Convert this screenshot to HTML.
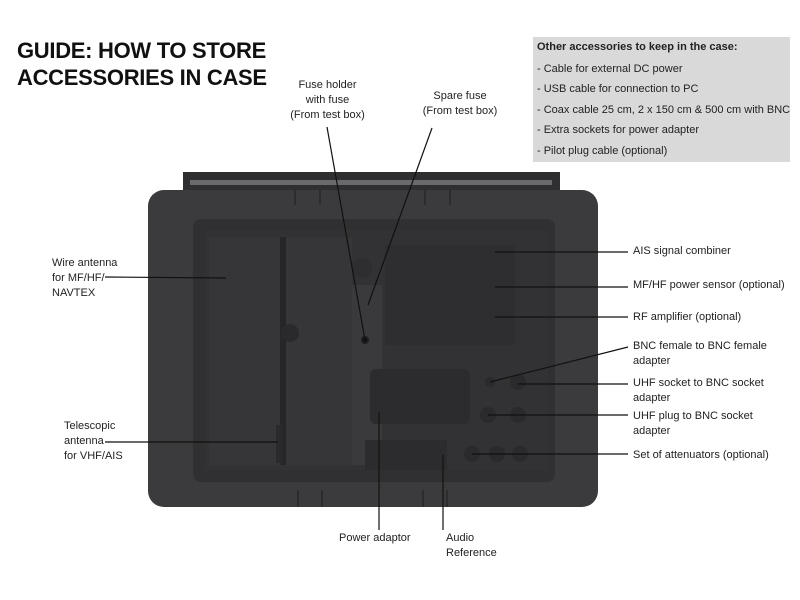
<!DOCTYPE html>
<html><head><meta charset="utf-8"><style>
body{margin:0;width:800px;height:600px;background:#fff;position:relative;overflow:hidden;font-family:"Liberation Sans",sans-serif}
.t{position:absolute;font-weight:bold;font-size:22px;left:17px;letter-spacing:-0.3px;white-space:nowrap;color:#111}
.box{position:absolute;left:533px;top:37px;width:257px;height:125px;background:#d9d9d9;font-size:11px;color:#222}
.box div{position:absolute;left:4px;white-space:nowrap}
.l{position:absolute;font-size:11px;color:#222;line-height:15px;white-space:nowrap}
svg{position:absolute;left:0;top:0}
</style></head><body>
<div class="t" style="top:38px">GUIDE: HOW TO STORE</div>
<div class="t" style="top:65px">ACCESSORIES IN CASE</div>
<div class="box">
<div style="top:4px;font-weight:bold">Other accessories to keep in the case:</div>
<div style="top:26px">- Cable for external DC power</div>
<div style="top:46px">- USB cable for connection to PC</div>
<div style="top:67px">- Coax cable 25 cm, 2 x 150 cm &amp; 500 cm with BNC</div>
<div style="top:87px">- Extra sockets for power adapter</div>
<div style="top:108px">- Pilot plug cable (optional)</div>
</div>
<svg width="800" height="600">
<rect x="183" y="172" width="377" height="22" fill="#2f2f31"/>
<rect x="190" y="180" width="362" height="5" fill="#6a6a6c"/>
<rect x="148" y="190" width="450" height="317" rx="16" fill="#3b3b3d"/>
<g stroke="#2c2c2e" stroke-width="2">
<line x1="295" y1="190" x2="295" y2="205"/><line x1="320" y1="190" x2="320" y2="205"/>
<line x1="425" y1="190" x2="425" y2="205"/><line x1="450" y1="190" x2="450" y2="205"/>
<line x1="298" y1="490" x2="298" y2="507"/><line x1="322" y1="490" x2="322" y2="507"/>
<line x1="423" y1="490" x2="423" y2="507"/><line x1="447" y1="490" x2="447" y2="507"/>
</g>
<rect x="193" y="219" width="362" height="263" rx="8" fill="#303032"/>
<rect x="205" y="230" width="343" height="240" fill="#323234"/>
<rect x="209" y="237" width="71" height="228" fill="#363638"/>
<rect x="280" y="237" width="6" height="228" fill="#262628"/>
<rect x="286" y="237" width="66" height="228" fill="#363638"/>
<circle cx="290" cy="333" r="9" fill="#2a2a2c"/>
<circle cx="362" cy="268" r="10" fill="#2e2e30"/>
<rect x="352" y="285" width="30" height="180" fill="#3a3a3c"/>
<rect x="385" y="245" width="130" height="100" fill="#2e2e30"/>
<rect x="370" y="369" width="100" height="55" rx="6" fill="#2c2c2e"/>
<rect x="365" y="440" width="82" height="30" fill="#2c2c2e"/>
<rect x="276" y="425" width="7" height="38" fill="#2a2a2c"/>
<circle cx="365" cy="340" r="4" fill="#1e1e20"/>
<circle cx="490" cy="382" r="5" fill="#2a2a2c"/><circle cx="518" cy="382" r="8" fill="#2a2a2c"/>
<circle cx="488" cy="415" r="8" fill="#2a2a2c"/><circle cx="518" cy="415" r="8" fill="#2a2a2c"/>
<circle cx="472" cy="454" r="8" fill="#2a2a2c"/><circle cx="497" cy="454" r="8" fill="#2a2a2c"/><circle cx="520" cy="454" r="8" fill="#2a2a2c"/>
<g stroke="#111" stroke-width="1.2" fill="none">
<line x1="327" y1="127" x2="365" y2="340"/>
<line x1="432" y1="128" x2="368" y2="305"/>
<line x1="105" y1="277" x2="226" y2="278"/>
<line x1="105" y1="442" x2="278" y2="442"/>
<line x1="495" y1="252" x2="628" y2="252"/>
<line x1="495" y1="287" x2="628" y2="287"/>
<line x1="495" y1="317" x2="628" y2="317"/>
<line x1="490" y1="382" x2="628" y2="347"/>
<line x1="518" y1="384" x2="628" y2="384"/>
<line x1="488" y1="415" x2="628" y2="415"/>
<line x1="472" y1="454" x2="628" y2="454"/>
<line x1="379" y1="412" x2="379" y2="530"/>
<line x1="443" y1="455" x2="443" y2="530"/>
</g>
<circle cx="365" cy="340" r="2" fill="#111"/>
</svg>
<div class="l" style="left:290px;top:78px;text-align:center;width:75px">Fuse holder<br>with fuse<br>(From test box)</div>
<div class="l" style="left:420px;top:89px;text-align:center;width:80px">Spare fuse<br>(From test box)</div>
<div class="l" style="left:52px;top:256px">Wire antenna<br>for MF/HF/<br>NAVTEX</div>
<div class="l" style="left:64px;top:419px">Telescopic<br>antenna<br>for VHF/AIS</div>
<div class="l" style="left:633px;top:244px">AIS signal combiner</div>
<div class="l" style="left:633px;top:278px">MF/HF power sensor (optional)</div>
<div class="l" style="left:633px;top:310px">RF amplifier (optional)</div>
<div class="l" style="left:633px;top:339px">BNC female to BNC female<br>adapter</div>
<div class="l" style="left:633px;top:376px">UHF socket to BNC socket<br>adapter</div>
<div class="l" style="left:633px;top:409px">UHF plug to BNC socket<br>adapter</div>
<div class="l" style="left:633px;top:448px">Set of attenuators (optional)</div>
<div class="l" style="left:339px;top:531px">Power adaptor</div>
<div class="l" style="left:446px;top:531px">Audio<br>Reference</div>
</body></html>
